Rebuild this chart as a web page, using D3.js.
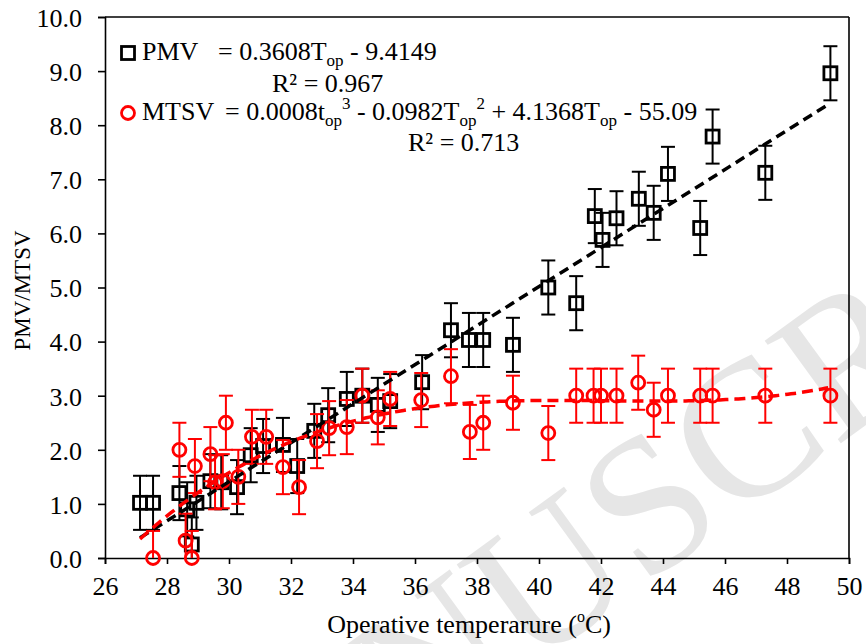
<!DOCTYPE html>
<html>
<head>
<meta charset="utf-8">
<script src="https://cdn.jsdelivr.net/npm/d3@7"></script>
<style>
  html, body { margin: 0; padding: 0; background: #fff; }
  svg { display: block; font-family: "Liberation Serif", "Times New Roman", serif; }
</style>
</head>
<body>
<svg id="chart" width="866" height="644"></svg>
<script>
// Operative temperature (°C) for each PMV observation
const pmvTemp = [27.13, 27.55, 28.4, 28.65, 28.8, 28.95, 29.4, 29.75, 30.26, 30.7, 31.1, 31.74,
  32.2, 32.75, 33.2, 33.8, 34.3, 34.8, 35.2, 36.23, 37.16, 37.74, 38.2, 39.16, 40.3, 41.2,
  41.8, 42.05, 42.5, 43.22, 43.7, 44.16, 45.2, 45.6, 47.3, 49.4];
const pmvVal = [1.02, 1.02, 1.2, 0.9, 0.25, 1.02, 1.42, 1.4, 1.31, 1.9, 2.07, 2.09,
  1.7, 2.35, 2.64, 2.94, 3.0, 2.83, 2.9, 3.25, 4.21, 4.03, 4.03, 3.94, 5.0, 4.71,
  6.32, 5.88, 6.28, 6.64, 6.38, 7.1, 6.1, 7.79, 7.12, 8.96];
const pmvErr = 0.5;

// Operative temperature (°C) for each MTSV observation
const mtsvTemp = [27.55, 28.4, 28.6, 28.8, 28.9, 29.4, 29.55, 29.8, 29.9, 30.3, 30.74, 31.2,
  31.74, 32.26, 32.84, 33.23, 33.8, 34.3, 34.8, 35.2, 36.2, 37.16, 37.77, 38.2, 39.16, 40.3,
  41.2, 41.76, 42.0, 42.5, 43.2, 43.7, 44.16, 45.2, 45.6, 47.3, 49.4];
const mtsvVal = [0, 2.0, 0.32, 0, 1.7, 1.92, 1.4, 1.42, 2.5, 1.5, 2.24, 2.24,
  1.68, 1.31, 2.16, 2.4, 2.42, 3.0, 2.6, 2.94, 2.92, 3.36, 2.33, 2.5, 2.87, 2.31,
  3.0, 3.0, 3.0, 3.0, 3.24, 2.74, 3.0, 3.0, 3.0, 3.0, 3.0];
const mtsvErr = 0.5;

// Linear PMV regression as reported
const pmvSlope = 0.3608, pmvIntercept = -9.4149;

const xTicks = d3.range(26, 51, 2);
const yTicks = d3.range(0, 11, 1);

const svg = d3.select("#chart");
const plotL = 105, plotR = 849, plotT = 17, plotB = 558;
const fontSize = 26;

const x = d3.scaleLinear().domain([26, 50]).range([plotL, plotR]);
const y = d3.scaleLinear().domain([0, 10]).range([plotB, plotT]);

// Watermark
svg.append("text")
  .attr("transform", "translate(630,515) rotate(-36)")
  .attr("text-anchor", "middle")
  .attr("dominant-baseline", "central")
  .attr("font-size", 195)
  .attr("fill", "#e6e6e6")
  .text("MANUSCRIPT");

svg.append("defs").append("clipPath").attr("id", "plotClip")
  .append("rect").attr("x", plotL).attr("y", plotT).attr("width", plotR - plotL).attr("height", plotB - plotT);

// Cubic least-squares fit for MTSV
function polyFit(xs, ys, deg) {
  const mx = d3.mean(xs), sx = d3.deviation(xs);
  const n = deg + 1;
  const A = Array.from({length: n}, () => new Array(n + 1).fill(0));
  xs.forEach((xv, k) => {
    const t = (xv - mx) / sx;
    const p = d3.range(n).map(i => Math.pow(t, i));
    for (let i = 0; i < n; i++) {
      for (let j = 0; j < n; j++) A[i][j] += p[i] * p[j];
      A[i][n] += p[i] * ys[k];
    }
  });
  for (let c = 0; c < n; c++) {
    let piv = c;
    for (let r = c + 1; r < n; r++) if (Math.abs(A[r][c]) > Math.abs(A[piv][c])) piv = r;
    [A[c], A[piv]] = [A[piv], A[c]];
    for (let r = 0; r < n; r++) {
      if (r === c) continue;
      const f = A[r][c] / A[c][c];
      for (let k = c; k <= n; k++) A[r][k] -= f * A[c][k];
    }
  }
  const coef = A.map((row, i) => row[n] / row[i]);
  return xv => { const t = (xv - mx) / sx; return coef.reduce((s, c, i) => s + c * Math.pow(t, i), 0); };
}
const mtsvFit = polyFit(mtsvTemp, mtsvVal, 3);

// Axes
const xAxis = d3.axisBottom(x).tickValues(xTicks).tickSizeOuter(0).tickSize(6).tickPadding(13).tickFormat(d3.format("d"));
const yAxis = d3.axisLeft(y).tickValues(yTicks).tickSizeOuter(0).tickSize(7).tickPadding(16).tickFormat(d3.format(".1f"));

const gx = svg.append("g").attr("transform", `translate(0,${plotB})`).call(xAxis);
const gy = svg.append("g").attr("transform", `translate(${plotL},0)`).call(yAxis);
[gx, gy].forEach(g => {
  g.selectAll("path, line").attr("stroke", "#000").attr("stroke-width", 1.6);
  g.selectAll("text").attr("font-size", fontSize).attr("fill", "#000").attr("font-family", "Liberation Serif");
});
gx.selectAll("text").attr("dy", "0.71em");
gy.selectAll("text").attr("dy", "0.36em");

// Frame top and right
svg.append("line").attr("x1", plotL).attr("x2", plotR).attr("y1", plotT).attr("y2", plotT)
  .attr("stroke", "#000").attr("stroke-width", 1.6);
svg.append("line").attr("x1", plotR).attr("x2", plotR).attr("y1", plotT).attr("y2", plotB)
  .attr("stroke", "#000").attr("stroke-width", 1.6);

// Axis titles
const xt = svg.append("text").attr("x", (plotL + plotR) / 2 - 8).attr("y", 633)
  .attr("text-anchor", "middle").attr("font-size", fontSize).text("Operative temperarure (");
xt.append("tspan").attr("font-size", 16).attr("dy", -11).text("o");
xt.append("tspan").attr("dy", 11).text("C)");

svg.append("text").attr("transform", `translate(30,${(plotT + plotB) / 2 + 3}) rotate(-90)`)
  .attr("text-anchor", "middle").attr("font-size", 23).text("PMV/MTSV");

function errorBars(g, xs, ys, err, color) {
  const cap = 7;
  const bars = g.append("g").attr("clip-path", "url(#plotClip)")
    .attr("stroke", color).attr("stroke-width", 2).attr("fill", "none");
  xs.forEach((xv, i) => {
    const cx = x(xv), y1 = y(ys[i] + err), y0 = y(ys[i] - err);
    bars.append("line").attr("x1", cx).attr("x2", cx).attr("y1", y1).attr("y2", y0);
    bars.append("line").attr("x1", cx - cap).attr("x2", cx + cap).attr("y1", y1).attr("y2", y1);
    bars.append("line").attr("x1", cx - cap).attr("x2", cx + cap).attr("y1", y0).attr("y2", y0);
  });
}

// PMV series
const gP = svg.append("g");
errorBars(gP, pmvTemp, pmvVal, pmvErr, "#000");
gP.selectAll("rect.pmv").data(pmvTemp).join("rect").attr("class", "pmv")
  .attr("x", d => x(d) - 6.5).attr("y", (d, i) => y(pmvVal[i]) - 6.5)
  .attr("width", 13).attr("height", 13)
  .attr("fill", "none").attr("stroke", "#000").attr("stroke-width", 2.8);

// MTSV series
const gM = svg.append("g");
errorBars(gM, mtsvTemp, mtsvVal, mtsvErr, "#ff0000");
gM.selectAll("circle.mtsv").data(mtsvTemp).join("circle").attr("class", "mtsv")
  .attr("cx", d => x(d)).attr("cy", (d, i) => y(mtsvVal[i]))
  .attr("r", 6.5)
  .attr("fill", "none").attr("stroke", "#ff0000").attr("stroke-width", 2.8);

// Trend lines
const pmvExt = d3.extent(pmvTemp);
svg.append("path")
  .attr("d", d3.line().x(d => x(d)).y(d => y(pmvSlope * d + pmvIntercept))(pmvExt))
  .attr("stroke", "#000").attr("stroke-width", 3.5).attr("stroke-dasharray", "10,6").attr("fill", "none");

const mtsvExt = d3.extent(mtsvTemp.concat([pmvExt[0]]));
const mtsvPts = d3.range(mtsvExt[0], mtsvExt[1] + 0.001, 0.1);
svg.append("path")
  .attr("d", d3.line().x(d => x(d)).y(d => y(mtsvFit(d)))(mtsvPts))
  .attr("stroke", "#ff0000").attr("stroke-width", 3.5).attr("stroke-dasharray", "11,6").attr("fill", "none");

// Legend with regression equations
const leg = svg.append("g").attr("font-size", fontSize).attr("fill", "#000");
leg.append("rect").attr("x", 121.5).attr("y", 46.5).attr("width", 13).attr("height", 13)
  .attr("fill", "#fff").attr("stroke", "#000").attr("stroke-width", 2.8);
leg.append("circle").attr("cx", 128).attr("cy", 113).attr("r", 6.5)
  .attr("fill", "#fff").attr("stroke", "#ff0000").attr("stroke-width", 2.8);

const sub = 17;
leg.append("text").attr("x", 142).attr("y", 60).text("PMV");
const e1 = leg.append("text").attr("x", 218).attr("y", 60);
e1.append("tspan").text("= 0.3608T");
e1.append("tspan").attr("font-size", sub).attr("dy", 6).text("op");
e1.append("tspan").attr("dy", -6).text(" - 9.4149");
leg.append("text").attr("x", 272).attr("y", 92).text("R² = 0.967");

leg.append("text").attr("x", 142).attr("y", 120).text("MTSV");
const e2 = leg.append("text").attr("x", 225).attr("y", 120);
e2.append("tspan").text("= 0.0008t");
e2.append("tspan").attr("font-size", sub).attr("dy", 6).text("op");
e2.append("tspan").attr("font-size", sub).attr("dy", -17).text("3");
e2.append("tspan").attr("dy", 11).text(" - 0.0982T");
e2.append("tspan").attr("font-size", sub).attr("dy", 6).text("op");
e2.append("tspan").attr("font-size", sub).attr("dy", -17).text("2");
e2.append("tspan").attr("dy", 11).text(" + 4.1368T");
e2.append("tspan").attr("font-size", sub).attr("dy", 6).text("op");
e2.append("tspan").attr("dy", -6).text(" - 55.09");
leg.append("text").attr("x", 408).attr("y", 151).text("R² = 0.713");
</script>
</body>
</html>
